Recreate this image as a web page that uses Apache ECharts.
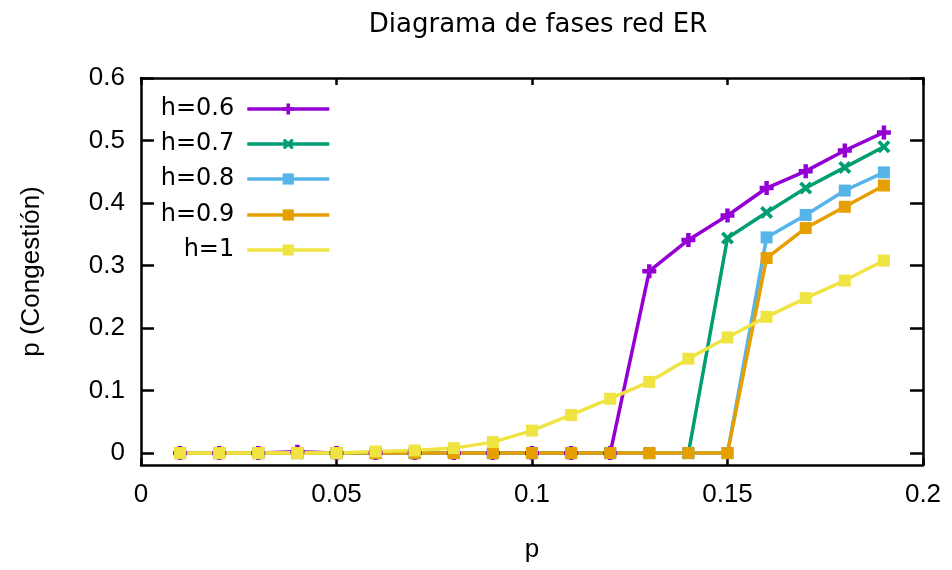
<!DOCTYPE html>
<html><head><meta charset="utf-8">
<script src="https://cdn.jsdelivr.net/npm/echarts@6/dist/echarts.min.js"></script>
<style>html,body{margin:0;padding:0;background:#fff}#c{width:952px;height:570px}</style>
</head><body><div id="c"></div>
<script>
const titleText = "Diagrama de fases red ER";
const xName = "p";
const yName = "p (Congestión)";
const pValues = [0.01,0.02,0.03,0.04,0.05,0.06,0.07,0.08,0.09,0.10,0.11,0.12,0.13,0.14,0.15,0.16,0.17,0.18,0.19];
const seriesNames = ["h=0.6","h=0.7","h=0.8","h=0.9","h=1"];
const h06 = [0,0,0,0.002,0,0,0,0,0,0,0,0,0.291,0.341,0.380,0.424,0.451,0.484,0.513];
const h07 = [0,0,0,0,0,0,0,0,0,0,0,0,0,0,0.344,0.385,0.424,0.457,0.490];
const h08 = [0,0,0,0,0,0,0,0,0,0,0,0,0,0,0,0.345,0.381,0.420,0.449];
const h09 = [0,0,0,0,0,0,0,0,0,0,0,0,0,0,0,0.312,0.360,0.394,0.428];
const h10 = [0,0,0,0,0,0.0026,0.0042,0.008,0.0176,0.036,0.061,0.087,0.114,0.151,0.185,0.218,0.248,0.276,0.308];
const xTicks = [0,0.05,0.1,0.15,0.2];
const yTicks = [0,0.1,0.2,0.3,0.4,0.5,0.6];

const allValues = [h06,h07,h08,h09,h10];
const colors = ["#9400d3","#009e73","#56b4e9","#e69f00","#f0e442"];
const symbols = [
  'path://M3.4,0H6.6V3.4H10V6.6H6.6V10H3.4V6.6H0V3.4H3.4Z',
  'path://M2,0L5,3L8,0L10,2L7,5L10,8L8,10L5,7L2,10L0,8L3,5L0,2Z',
  'rect','rect','rect'
];
const symSizes = [14,13,12,12,12];
const FONT = "'Liberation Sans', Arial, sans-serif";
const FONT2 = "'DejaVu Sans', Verdana, sans-serif";

const series = seriesNames.map((n,i)=>({
  name:n, type:'line',
  data: pValues.map((p,j)=>[p, allValues[i][j]]),
  xAxisIndex:0, yAxisIndex:0,
  symbol:symbols[i], symbolSize:symSizes[i], showAllSymbol:true,
  lineStyle:{color:colors[i], width:3.5},
  itemStyle:{color:colors[i]},
  animation:false
}));

const legendCenters = [109,144,179,215,250];
const legends = seriesNames.map((n,i)=>({
  data:[n], orient:'vertical', align:'right',
  right: 952-331, top: legendCenters[i]-15,
  itemWidth:82, itemHeight:14, padding:0,
  lineStyle:{width:3.5},
  textStyle:{fontFamily:FONT2, fontSize:24, color:'#000', lineHeight:30, padding:[0,8,0,0]},
  selectedMode:false
}));

const axisLineStyle = {show:true, onZero:false, lineStyle:{color:'#000', width:2.5}};
const option = {
  backgroundColor:'#fff',
  animation:false,
  title:{text:titleText, left:533, textAlign:'center', top:7,
    textStyle:{fontFamily:FONT2, fontSize:26, fontWeight:'normal', color:'#000'}},
  legend: legends,
  grid:{left:141, right:29, top:78, bottom:105, containLabel:false},
  xAxis:[
    {type:'value', min:0, max:0.2, interval:0.05, position:'bottom',
     name:xName, nameLocation:'middle', nameGap:72,
     nameTextStyle:{fontFamily:FONT, fontSize:26, color:'#000'},
     axisLine:axisLineStyle,
     axisTick:{show:true, inside:true, length:7, lineStyle:{color:'#000', width:2.5}},
     axisLabel:{show:true, margin:17, fontFamily:FONT, fontSize:26, color:'#000'},
     splitLine:{show:false}},
    {type:'value', min:0, max:0.2, interval:0.05, position:'top',
     axisLine:axisLineStyle,
     axisTick:{show:true, inside:true, length:7, lineStyle:{color:'#000', width:2.5}},
     axisLabel:{show:false}, splitLine:{show:false}}
  ],
  yAxis:[
    {type:'value', min:-0.019, max:0.6, position:'left',
     name:yName, nameLocation:'middle', nameGap:96, nameRotate:90,
     nameTextStyle:{fontFamily:FONT, fontSize:26, color:'#000'},
     axisLine:axisLineStyle,
     axisTick:{show:true, inside:true, length:13, customValues:yTicks, lineStyle:{color:'#000', width:2.5}},
     axisLabel:{show:true, margin:16, customValues:yTicks, fontFamily:FONT, fontSize:26, color:'#000'},
     splitLine:{show:false}},
    {type:'value', min:-0.019, max:0.6, position:'right',
     axisLine:axisLineStyle,
     axisTick:{show:true, inside:true, length:13, customValues:yTicks, lineStyle:{color:'#000', width:2.5}},
     axisLabel:{show:false}, splitLine:{show:false}}
  ],
  series: series
};
const chart = echarts.init(document.getElementById('c'), null, {renderer:'canvas'});
chart.setOption(option);
</script>
</body></html>
